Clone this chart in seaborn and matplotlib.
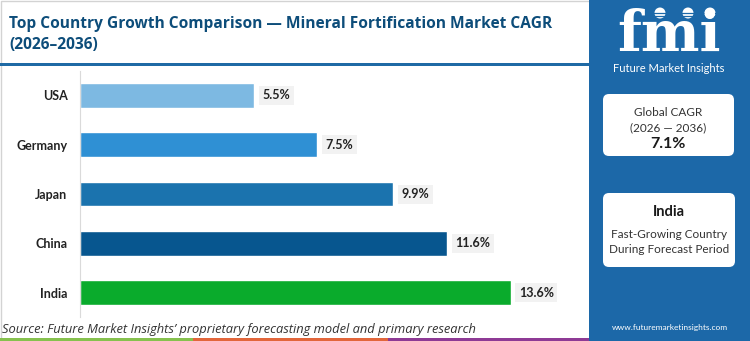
import matplotlib
matplotlib.use("Agg")
import matplotlib.pyplot as plt
import numpy as np
import pandas as pd
import seaborn as sns
from matplotlib.patches import Rectangle, FancyBboxPatch, Circle

# ---- data -------------------------------------------------------------
countries = ["USA", "Germany", "Japan", "China", "India"]
cagr = [5.5, 7.5, 9.9, 11.6, 13.6]
bar_colors = ["#7db9e2", "#2f90d4", "#1b73ae", "#07568f", "#0aab2c"]

title_line1 = "Top Country Growth Comparison \u2014 Mineral Fortification Market CAGR"
title_line2 = "(2026\u20132036)"
global_cagr = 7.1
global_period = "(2026 \u2014 2036)"
lead_country = "India"
source_note = ("Source: Future Market Insights\u2019 proprietary forecasting model "
               "and primary research")

# ---- style ------------------------------------------------------------
sns.set_theme(style="white")
plt.rcParams["font.family"] = ["Lato", "DejaVu Sans"]
WIDE = ["Open Sans", "DejaVu Sans"]

W, H = 750, 341
PANEL_X = 589
PANEL_BLUE = "#1c68a8"
fig = plt.figure(figsize=(W / 100, H / 100), dpi=100)
fig.patch.set_facecolor("white")

# pixel-space canvas for the frame, header, side panel and footer
bg = fig.add_axes([0, 0, 1, 1], zorder=0)
bg.set_xlim(0, W)
bg.set_ylim(H, 0)
bg.axis("off")

bg.add_patch(Rectangle((0.5, 0.5), PANEL_X, H - 1, fill=False,
                       edgecolor="#d3d3d3", lw=1))

# header
bg.text(9, 24, title_line1, fontsize=11.2, fontweight="bold", color="#0d4d7a",
        va="center", ha="left", family=WIDE)
bg.text(9, 45, title_line2, fontsize=11.2, fontweight="bold", color="#0d4d7a",
        va="center", ha="left", family=WIDE)
bg.add_patch(Rectangle((0, 62.5), PANEL_X, 3, color="#1f6aa5", lw=0))

# side panel with striped logo
bg.add_patch(Rectangle((PANEL_X, 0), W - PANEL_X, H, color=PANEL_BLUE, lw=0))
bg.text(669, 51, "fmi", fontsize=40, family="DejaVu Serif", fontweight="bold",
        color="white", ha="center", va="baseline")
for yy in np.arange(13, 52, 3.3):
    bg.plot([606, 734], [yy, yy], color=PANEL_BLUE, lw=0.9, solid_capstyle="butt")
for cx in (660, 688, 710):
    bg.add_patch(Circle((cx, 13), 5.5, color="white", lw=0))
bg.text(669, 68.5, "Future Market Insights", fontsize=8, color="white",
        ha="center", va="center")

bg.add_patch(FancyBboxPatch((603, 94), 131, 62,
                            boxstyle="round,pad=0,rounding_size=6",
                            fc="white", ec="none"))
bg.text(668, 112, "Global CAGR", fontsize=8.5, color="#333333",
        ha="center", va="center")
bg.text(668, 128, global_period, fontsize=8.5, color="#333333",
        ha="center", va="center")
bg.text(668, 143.5, f"{global_cagr}%", fontsize=11.5, fontweight="bold",
        color="#1a1a1a", ha="center", va="center")

bg.add_patch(FancyBboxPatch((603, 193), 132, 74,
                            boxstyle="round,pad=0,rounding_size=6",
                            fc="white", ec="none"))
bg.text(669, 212, lead_country, fontsize=10.5, fontweight="bold",
        color="#1a1a1a", ha="center", va="center")
bg.text(669, 234, "Fast-Growing Country", fontsize=8.5, color="#333333",
        ha="center", va="center")
bg.text(669, 249.5, "During Forecast Period", fontsize=8.5, color="#333333",
        ha="center", va="center")
bg.text(670, 327.5, "www.futuremarketinsights.com", fontsize=6, color="white",
        ha="center", va="center")

# footer
bg.text(2, 329, source_note, fontsize=9.3, style="italic", color="#333333",
        ha="left", va="center", family=WIDE)
for x0, x1, col in ((0, 193, "#86c14e"), (193, 388, "#e2663b"),
                    (388, PANEL_X, "#8e3a95")):
    bg.add_patch(Rectangle((x0, 337.5), x1 - x0, 3.5, color=col, lw=0))

# ---- bar chart --------------------------------------------------------
ax_left, ax_right, ax_top, ax_bottom = 80, 580, 70.7, 317.3
ax = fig.add_axes([ax_left / W, (H - ax_bottom) / H,
                   (ax_right - ax_left) / W, (ax_bottom - ax_top) / H], zorder=2)
ax.patch.set_alpha(0)

df = pd.DataFrame({"country": countries, "cagr": cagr})
sns.barplot(data=df, x="cagr", y="country", hue="country",
            palette=dict(zip(countries, bar_colors)), orient="h",
            width=0.5, saturation=1, legend=False, ax=ax)

ax.set_xlim(0, (ax_right - ax_left) / 31.66)
ax.set_ylim(4.5, -0.5)
ax.set_xlabel("")
ax.set_ylabel("")
ax.set_xticks([])
for side in ("top", "right", "bottom"):
    ax.spines[side].set_visible(False)
ax.spines["left"].set_color("#dadada")
ax.spines["left"].set_linewidth(0.8)
ax.tick_params(axis="y", which="major", length=0, pad=9, labelsize=9,
               labelcolor="#222222")
ax.set_yticks([0.5, 1.5, 2.5, 3.5], minor=True)
ax.tick_params(axis="y", which="minor", length=3.5, width=0.8, color="#dadada")
for lbl in ax.get_yticklabels():
    lbl.set_fontweight("bold")

for i, v in enumerate(cagr):
    ax.annotate(f"{v}%", xy=(v, i), xytext=(6, 0), textcoords="offset points",
                ha="left", va="center", fontsize=9, fontweight="bold",
                color="#222222",
                bbox=dict(boxstyle="square,pad=0.28", fc="#f2f2f2", ec="none"))

fig.savefig("out.png", dpi=100)
